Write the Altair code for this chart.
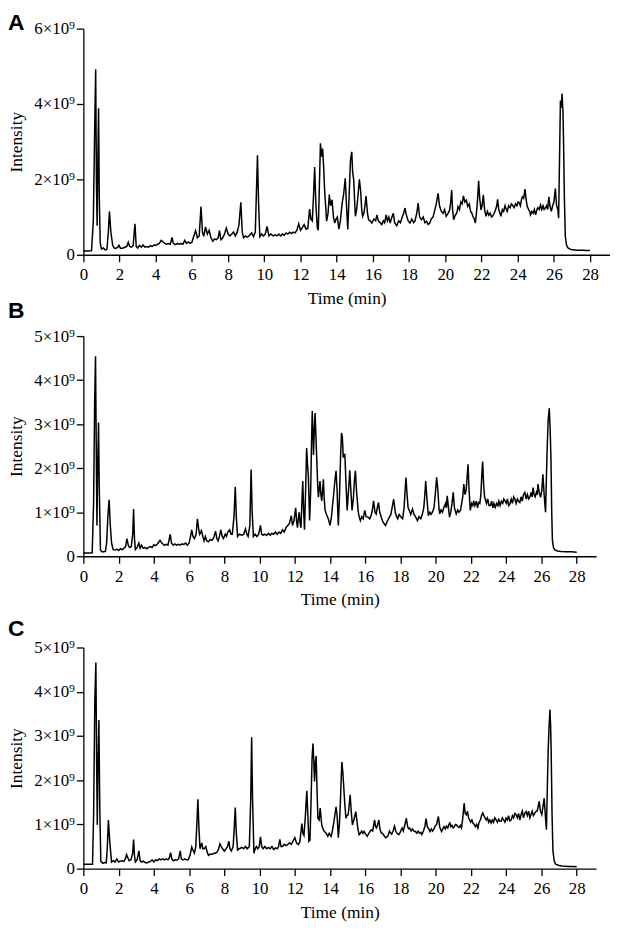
import altair as alt
import pandas as pd

PANEL_LABELS = ["A", "B", "C"]
X_TICKS = [0, 2, 4, 6, 8, 10, 12, 14, 16, 18, 20, 22, 24, 26, 28]
Y_TICKS_A = [0, 2, 4, 6]
Y_TICKS_BC = [0, 1, 2, 3, 4, 5]

# (time in min, intensity in units of 1e9)
A_TRACE = [
    (0.0, 0.10), (0.3, 0.10), (0.45, 0.11), (0.55, 0.9), (0.62, 3.2), (0.68, 4.92), (0.72, 2.0), (0.76, 0.77),
    (0.8, 2.5), (0.84, 3.89), (0.88, 1.5), (0.93, 0.32), (1.0, 0.15), (1.11, 0.18), (1.2, 0.13), (1.3, 0.14),
    (1.38, 0.6), (1.44, 1.15), (1.52, 0.6), (1.62, 0.25), (1.7, 0.18), (1.8, 0.17), (1.9, 0.2), (1.97, 0.25),
    (2.05, 0.17), (2.2, 0.18), (2.3, 0.2), (2.4, 0.22), (2.48, 0.33), (2.56, 0.22), (2.65, 0.2), (2.75, 0.24),
    (2.85, 0.82), (2.92, 0.22), (3.0, 0.18), (3.1, 0.25), (3.2, 0.2), (3.3, 0.26), (3.4, 0.2), (3.5, 0.22),
    (3.6, 0.2), (3.7, 0.24), (3.8, 0.22), (3.9, 0.26), (4.0, 0.25), (4.1, 0.28), (4.2, 0.3), (4.3, 0.38),
    (4.4, 0.34), (4.5, 0.3), (4.6, 0.28), (4.7, 0.3), (4.8, 0.28), (4.9, 0.46), (4.97, 0.3), (5.1, 0.27),
    (5.2, 0.3), (5.3, 0.28), (5.4, 0.3), (5.5, 0.28), (5.6, 0.38), (5.7, 0.3), (5.8, 0.34), (5.9, 0.3),
    (6.0, 0.33), (6.1, 0.49), (6.2, 0.64), (6.3, 0.45), (6.4, 0.5), (6.5, 1.28), (6.58, 0.6), (6.65, 0.49),
    (6.75, 0.74), (6.85, 0.55), (6.95, 0.65), (7.05, 0.45), (7.15, 0.36), (7.25, 0.42), (7.35, 0.4), (7.45, 0.45),
    (7.52, 0.64), (7.6, 0.4), (7.7, 0.45), (7.8, 0.55), (7.9, 0.71), (8.0, 0.55), (8.1, 0.5), (8.2, 0.55),
    (8.3, 0.6), (8.4, 0.5), (8.5, 0.6), (8.6, 0.8), (8.7, 1.39), (8.78, 0.6), (8.85, 0.45), (8.95, 0.5),
    (9.05, 0.47), (9.15, 0.5), (9.3, 0.58), (9.4, 0.48), (9.5, 0.6), (9.57, 1.8), (9.62, 2.64), (9.68, 1.4),
    (9.75, 0.48), (9.85, 0.55), (9.95, 0.5), (10.05, 0.55), (10.15, 0.75), (10.25, 0.5), (10.35, 0.55), (10.5, 0.5),
    (10.6, 0.53), (10.7, 0.5), (10.8, 0.55), (10.9, 0.5), (11.0, 0.55), (11.1, 0.52), (11.2, 0.58), (11.3, 0.55),
    (11.4, 0.6), (11.5, 0.56), (11.6, 0.6), (11.7, 0.58), (11.8, 0.65), (11.9, 0.82), (12.0, 0.65), (12.1, 0.72),
    (12.2, 0.8), (12.3, 0.68), (12.4, 0.7), (12.5, 1.21), (12.57, 0.95), (12.65, 0.9), (12.72, 1.6), (12.78, 2.33),
    (12.85, 1.3), (12.93, 0.7), (12.98, 0.65), (13.05, 2.0), (13.1, 2.96), (13.16, 2.6), (13.22, 2.82), (13.28, 2.3),
    (13.33, 1.72), (13.4, 1.2), (13.44, 0.89), (13.52, 1.1), (13.59, 1.6), (13.66, 1.3), (13.74, 1.46), (13.82, 1.0),
    (13.89, 0.84), (13.96, 0.95), (14.03, 1.0), (14.12, 0.68), (14.2, 0.9), (14.3, 1.37), (14.38, 1.6), (14.47, 2.03),
    (14.54, 1.3), (14.61, 0.67), (14.68, 1.5), (14.76, 2.51), (14.83, 2.73), (14.88, 2.2), (14.94, 1.98), (14.99, 1.4),
    (15.03, 1.02), (15.1, 1.2), (15.18, 1.6), (15.25, 2.0), (15.32, 1.7), (15.38, 1.2), (15.43, 1.02), (15.5, 1.1),
    (15.56, 1.3), (15.62, 1.56), (15.7, 1.1), (15.76, 0.93), (15.85, 0.9), (15.94, 0.84), (16.05, 0.95), (16.15, 0.9),
    (16.22, 1.06), (16.3, 0.9), (16.4, 0.85), (16.49, 0.8), (16.58, 0.9), (16.65, 0.85), (16.73, 1.06), (16.8, 0.9),
    (16.88, 1.0), (16.95, 0.84), (17.05, 1.0), (17.13, 1.1), (17.2, 0.85), (17.32, 0.77), (17.42, 0.9), (17.52, 0.85),
    (17.62, 1.0), (17.7, 1.1), (17.77, 1.24), (17.85, 1.05), (17.95, 0.9), (18.05, 0.84), (18.15, 0.95), (18.25, 0.85),
    (18.32, 0.89), (18.42, 1.1), (18.5, 1.37), (18.58, 1.0), (18.68, 0.93), (18.78, 1.0), (18.87, 0.85), (18.96, 0.89),
    (19.05, 0.8), (19.14, 0.84), (19.22, 0.95), (19.32, 1.0), (19.42, 1.19), (19.5, 1.35), (19.6, 1.63), (19.68, 1.3),
    (19.78, 1.15), (19.88, 1.1), (19.96, 1.2), (20.05, 1.02), (20.15, 1.1), (20.24, 1.19), (20.3, 1.4), (20.35, 1.72),
    (20.4, 1.2), (20.46, 0.93), (20.55, 1.05), (20.63, 1.1), (20.7, 1.28), (20.78, 1.2), (20.86, 1.4), (20.93, 1.35),
    (21.0, 1.56), (21.08, 1.4), (21.16, 1.45), (21.24, 1.28), (21.32, 1.35), (21.4, 1.15), (21.47, 1.1), (21.52, 1.02),
    (21.6, 0.95), (21.66, 0.84), (21.74, 1.2), (21.8, 1.6), (21.84, 1.96), (21.9, 1.5), (21.97, 1.19), (22.03, 1.3),
    (22.1, 1.59), (22.17, 1.2), (22.25, 1.02), (22.33, 1.15), (22.4, 1.05), (22.48, 1.1), (22.55, 1.0), (22.61, 1.02),
    (22.7, 1.1), (22.78, 1.2), (22.84, 1.3), (22.89, 1.47), (22.95, 1.2), (23.02, 1.1), (23.07, 1.02), (23.15, 1.2),
    (23.22, 1.15), (23.3, 1.3), (23.34, 1.24), (23.42, 1.15), (23.5, 1.3), (23.58, 1.25), (23.65, 1.35), (23.71, 1.32),
    (23.8, 1.25), (23.88, 1.35), (23.95, 1.3), (24.02, 1.4), (24.07, 1.39), (24.15, 1.3), (24.2, 1.45), (24.26, 1.54),
    (24.33, 1.5), (24.4, 1.74), (24.47, 1.45), (24.53, 1.28), (24.6, 1.2), (24.66, 1.15), (24.71, 1.06), (24.78, 1.15),
    (24.85, 1.1), (24.92, 1.2), (24.99, 1.06), (25.06, 1.2), (25.12, 1.25), (25.19, 1.2), (25.26, 1.32), (25.33, 1.2),
    (25.4, 1.3), (25.46, 1.2), (25.53, 1.24), (25.6, 1.3), (25.66, 1.2), (25.72, 1.54), (25.78, 1.3), (25.86, 1.15),
    (25.93, 1.3), (26.0, 1.4), (26.08, 1.76), (26.15, 1.3), (26.22, 1.2), (26.26, 0.97), (26.31, 2.5), (26.36, 4.09),
    (26.41, 3.9), (26.45, 4.28), (26.5, 3.8), (26.53, 3.12), (26.58, 1.5), (26.63, 0.49), (26.7, 0.25), (26.78, 0.18),
    (26.9, 0.15), (27.0, 0.13), (27.3, 0.12), (27.6, 0.12), (27.8, 0.11), (28.0, 0.11),
]

B_TRACE = [
    (0.0, 0.075), (0.3, 0.075), (0.5, 0.08), (0.58, 1.2), (0.64, 3.5), (0.69, 4.54), (0.73, 2.5), (0.77, 0.7),
    (0.81, 2.0), (0.86, 3.04), (0.9, 1.6), (0.97, 0.14), (1.05, 0.1), (1.15, 0.1), (1.25, 0.11), (1.32, 0.3),
    (1.39, 0.9), (1.46, 1.28), (1.53, 0.7), (1.6, 0.3), (1.69, 0.15), (1.8, 0.14), (1.9, 0.16), (2.0, 0.13),
    (2.1, 0.17), (2.2, 0.15), (2.3, 0.18), (2.4, 0.22), (2.47, 0.4), (2.55, 0.25), (2.62, 0.2), (2.72, 0.22),
    (2.8, 0.5), (2.85, 1.07), (2.9, 0.4), (2.95, 0.15), (3.05, 0.2), (3.15, 0.3), (3.22, 0.18), (3.3, 0.25),
    (3.4, 0.18), (3.5, 0.2), (3.6, 0.17), (3.7, 0.2), (3.8, 0.22), (3.9, 0.2), (4.0, 0.26), (4.1, 0.24),
    (4.2, 0.28), (4.35, 0.36), (4.45, 0.3), (4.6, 0.25), (4.7, 0.27), (4.8, 0.25), (4.93, 0.5), (5.0, 0.3),
    (5.1, 0.25), (5.2, 0.28), (5.3, 0.25), (5.4, 0.27), (5.5, 0.25), (5.6, 0.28), (5.7, 0.27), (5.8, 0.3),
    (5.9, 0.25), (6.0, 0.3), (6.08, 0.45), (6.15, 0.6), (6.22, 0.45), (6.3, 0.4), (6.4, 0.5), (6.47, 0.85),
    (6.55, 0.6), (6.6, 0.5), (6.7, 0.58), (6.78, 0.45), (6.85, 0.35), (6.92, 0.45), (7.0, 0.35), (7.1, 0.33),
    (7.2, 0.38), (7.3, 0.36), (7.4, 0.42), (7.5, 0.57), (7.58, 0.4), (7.65, 0.35), (7.72, 0.45), (7.8, 0.6),
    (7.88, 0.45), (7.95, 0.4), (8.05, 0.5), (8.12, 0.45), (8.2, 0.55), (8.3, 0.6), (8.38, 0.5), (8.45, 0.5),
    (8.55, 0.9), (8.62, 1.58), (8.68, 0.9), (8.75, 0.45), (8.85, 0.5), (9.0, 0.48), (9.1, 0.5), (9.2, 0.62),
    (9.28, 0.5), (9.35, 0.45), (9.45, 0.7), (9.52, 1.97), (9.58, 1.0), (9.65, 0.45), (9.75, 0.5), (9.85, 0.45),
    (9.95, 0.5), (10.05, 0.7), (10.12, 0.5), (10.2, 0.48), (10.3, 0.5), (10.4, 0.47), (10.5, 0.52), (10.6, 0.48),
    (10.7, 0.52), (10.8, 0.5), (10.9, 0.55), (11.0, 0.5), (11.1, 0.55), (11.2, 0.52), (11.3, 0.6), (11.4, 0.55),
    (11.5, 0.65), (11.6, 0.7), (11.7, 0.75), (11.8, 0.92), (11.87, 0.7), (11.95, 0.8), (12.05, 1.1), (12.1, 0.8),
    (12.15, 0.65), (12.2, 0.85), (12.25, 1.0), (12.3, 0.75), (12.35, 0.65), (12.4, 1.2), (12.45, 1.71), (12.5, 1.04),
    (12.55, 0.6), (12.62, 1.6), (12.67, 2.46), (12.72, 2.1), (12.77, 1.8), (12.84, 0.81), (12.9, 1.5), (12.95, 2.6),
    (12.99, 3.3), (13.03, 2.8), (13.06, 2.3), (13.1, 2.8), (13.15, 3.25), (13.2, 2.7), (13.25, 2.16), (13.3, 1.6),
    (13.34, 1.34), (13.43, 1.71), (13.48, 1.4), (13.53, 1.26), (13.58, 1.5), (13.62, 1.75), (13.67, 1.3), (13.72, 1.04),
    (13.8, 0.95), (13.9, 0.85), (14.0, 0.7), (14.08, 0.9), (14.15, 1.2), (14.19, 1.34), (14.27, 1.7), (14.34, 1.94),
    (14.4, 1.5), (14.44, 1.0), (14.47, 0.7), (14.53, 1.3), (14.6, 2.3), (14.65, 2.8), (14.7, 2.7), (14.75, 2.24),
    (14.8, 2.3), (14.84, 2.31), (14.9, 1.7), (14.97, 1.04), (15.05, 1.5), (15.12, 1.95), (15.18, 1.5), (15.25, 1.04),
    (15.32, 1.3), (15.38, 1.7), (15.44, 1.94), (15.5, 1.5), (15.59, 1.04), (15.65, 0.9), (15.72, 0.81), (15.8, 0.9),
    (15.88, 0.85), (15.97, 1.04), (16.05, 0.9), (16.15, 0.89), (16.25, 0.85), (16.35, 0.95), (16.42, 1.1), (16.47, 1.26),
    (16.55, 1.0), (16.62, 0.96), (16.68, 1.1), (16.75, 1.22), (16.82, 1.0), (16.9, 0.89), (16.98, 0.8), (17.05, 0.75),
    (17.15, 0.7), (17.25, 0.8), (17.37, 0.89), (17.45, 0.95), (17.52, 1.1), (17.61, 1.3), (17.7, 1.0), (17.78, 0.9),
    (17.84, 0.85), (17.92, 0.95), (18.0, 0.9), (18.12, 0.85), (18.2, 1.1), (18.26, 1.5), (18.31, 1.79), (18.37, 1.4),
    (18.43, 1.1), (18.5, 1.04), (18.58, 0.95), (18.68, 1.07), (18.76, 0.95), (18.85, 0.9), (18.96, 0.81), (19.05, 0.9),
    (19.15, 0.85), (19.24, 0.96), (19.32, 1.1), (19.38, 1.4), (19.43, 1.71), (19.5, 1.3), (19.58, 0.92), (19.66, 1.0),
    (19.73, 0.95), (19.81, 1.0), (19.9, 1.1), (19.97, 1.4), (20.05, 1.79), (20.12, 1.5), (20.18, 1.1), (20.22, 0.96),
    (20.3, 1.05), (20.38, 1.0), (20.46, 1.11), (20.55, 1.2), (20.6, 1.1), (20.65, 1.37), (20.72, 1.1), (20.78, 0.89),
    (20.85, 1.0), (20.92, 1.2), (20.99, 1.45), (21.06, 1.1), (21.16, 0.96), (21.25, 1.05), (21.32, 1.0), (21.4, 1.04),
    (21.47, 1.2), (21.53, 1.35), (21.59, 1.64), (21.66, 1.4), (21.72, 1.49), (21.78, 1.8), (21.83, 2.09), (21.89, 1.5),
    (21.96, 1.04), (22.03, 1.2), (22.1, 1.15), (22.15, 1.26), (22.22, 1.15), (22.3, 1.25), (22.37, 1.1), (22.43, 1.22),
    (22.5, 1.2), (22.56, 1.4), (22.62, 1.9), (22.66, 2.15), (22.72, 1.6), (22.77, 1.35), (22.81, 1.3), (22.88, 1.2),
    (22.95, 1.3), (23.02, 1.15), (23.1, 1.15), (23.17, 1.25), (23.24, 1.1), (23.3, 1.2), (23.37, 1.11), (23.45, 1.2),
    (23.52, 1.15), (23.58, 1.25), (23.65, 1.15), (23.72, 1.25), (23.8, 1.2), (23.86, 1.3), (23.93, 1.26), (24.0, 1.2),
    (24.07, 1.3), (24.14, 1.15), (24.21, 1.19), (24.28, 1.3), (24.35, 1.2), (24.42, 1.35), (24.49, 1.3), (24.56, 1.2),
    (24.63, 1.3), (24.7, 1.25), (24.77, 1.22), (24.84, 1.35), (24.91, 1.25), (24.98, 1.4), (25.06, 1.45), (25.13, 1.3),
    (25.2, 1.4), (25.27, 1.3), (25.34, 1.34), (25.41, 1.45), (25.47, 1.35), (25.52, 1.56), (25.58, 1.4), (25.64, 1.35),
    (25.71, 1.45), (25.76, 1.4), (25.8, 1.64), (25.87, 1.45), (25.95, 1.34), (26.02, 1.5), (26.08, 1.86), (26.15, 1.4),
    (26.23, 1.0), (26.28, 1.8), (26.33, 2.54), (26.38, 3.1), (26.44, 3.36), (26.49, 2.9), (26.54, 2.16), (26.58, 1.0),
    (26.62, 0.36), (26.68, 0.2), (26.74, 0.15), (26.9, 0.12), (27.12, 0.11), (27.4, 0.1), (27.7, 0.1), (28.0, 0.09),
]

C_TRACE = [
    (0.0, 0.1), (0.3, 0.1), (0.52, 0.1), (0.58, 1.2), (0.65, 3.8), (0.71, 4.66), (0.75, 2.5), (0.79, 0.99),
    (0.83, 2.4), (0.88, 3.36), (0.93, 1.4), (0.99, 0.17), (1.1, 0.12), (1.2, 0.14), (1.3, 0.13), (1.36, 0.5),
    (1.42, 1.1), (1.5, 0.6), (1.6, 0.15), (1.7, 0.18), (1.8, 0.15), (1.9, 0.22), (2.0, 0.15), (2.1, 0.17),
    (2.2, 0.18), (2.3, 0.16), (2.38, 0.22), (2.45, 0.32), (2.52, 0.25), (2.6, 0.18), (2.7, 0.2), (2.8, 0.35),
    (2.85, 0.66), (2.9, 0.3), (2.95, 0.15), (3.05, 0.2), (3.15, 0.4), (3.22, 0.18), (3.3, 0.15), (3.4, 0.17),
    (3.5, 0.14), (3.6, 0.13), (3.7, 0.15), (3.8, 0.16), (3.9, 0.2), (4.0, 0.15), (4.1, 0.2), (4.2, 0.18),
    (4.3, 0.22), (4.4, 0.2), (4.5, 0.22), (4.6, 0.2), (4.7, 0.22), (4.8, 0.2), (4.88, 0.25), (4.95, 0.36),
    (5.02, 0.22), (5.1, 0.18), (5.2, 0.2), (5.3, 0.19), (5.4, 0.22), (5.5, 0.4), (5.56, 0.22), (5.65, 0.2),
    (5.75, 0.22), (5.85, 0.2), (5.95, 0.2), (6.05, 0.3), (6.15, 0.49), (6.22, 0.42), (6.3, 0.35), (6.38, 0.5),
    (6.44, 1.0), (6.5, 1.57), (6.56, 0.9), (6.62, 0.45), (6.72, 0.58), (6.78, 0.45), (6.85, 0.45), (6.95, 0.5),
    (7.02, 0.38), (7.1, 0.3), (7.2, 0.33), (7.3, 0.32), (7.4, 0.35), (7.5, 0.35), (7.6, 0.38), (7.68, 0.45),
    (7.75, 0.56), (7.82, 0.5), (7.9, 0.45), (8.0, 0.4), (8.1, 0.45), (8.18, 0.5), (8.25, 0.62), (8.32, 0.45),
    (8.4, 0.4), (8.5, 0.5), (8.56, 0.9), (8.62, 1.38), (8.68, 0.8), (8.75, 0.42), (8.85, 0.45), (9.0, 0.48),
    (9.1, 0.45), (9.2, 0.5), (9.3, 0.45), (9.42, 0.5), (9.5, 1.6), (9.55, 2.97), (9.6, 1.6), (9.68, 0.35),
    (9.75, 0.45), (9.82, 0.5), (9.9, 0.45), (9.98, 0.5), (10.05, 0.72), (10.12, 0.5), (10.2, 0.45), (10.3, 0.5),
    (10.4, 0.45), (10.5, 0.48), (10.6, 0.45), (10.7, 0.5), (10.8, 0.43), (10.9, 0.47), (11.0, 0.45), (11.08, 0.5),
    (11.15, 0.66), (11.22, 0.5), (11.3, 0.5), (11.4, 0.55), (11.5, 0.52), (11.6, 0.55), (11.7, 0.58), (11.8, 0.55),
    (11.9, 0.62), (12.0, 0.7), (12.1, 0.58), (12.2, 0.55), (12.28, 0.6), (12.34, 0.8), (12.4, 1.02), (12.46, 0.8),
    (12.52, 0.75), (12.6, 1.2), (12.68, 1.76), (12.74, 1.2), (12.8, 0.62), (12.86, 0.65), (12.92, 1.5), (12.98, 2.5),
    (13.03, 2.83), (13.08, 2.4), (13.12, 1.97), (13.17, 2.4), (13.21, 2.55), (13.26, 1.8), (13.31, 1.14), (13.38, 1.1),
    (13.44, 1.37), (13.5, 1.1), (13.53, 0.99), (13.6, 0.9), (13.68, 0.84), (13.78, 0.8), (13.87, 0.73), (13.95, 0.8),
    (14.06, 0.73), (14.13, 0.85), (14.19, 0.99), (14.27, 1.2), (14.34, 1.4), (14.4, 1.2), (14.47, 0.7), (14.53, 1.0),
    (14.58, 1.44), (14.63, 2.0), (14.67, 2.41), (14.72, 2.2), (14.77, 1.89), (14.83, 1.5), (14.9, 1.14), (14.96, 1.2),
    (15.03, 1.22), (15.09, 1.45), (15.14, 1.67), (15.2, 1.3), (15.27, 0.99), (15.35, 1.1), (15.41, 1.2), (15.46, 1.29),
    (15.52, 1.1), (15.58, 0.9), (15.65, 0.77), (15.72, 0.8), (15.8, 0.85), (15.87, 0.8), (15.93, 0.84), (16.02, 0.78),
    (16.11, 0.73), (16.2, 0.8), (16.28, 0.85), (16.34, 0.88), (16.42, 0.85), (16.48, 1.0), (16.53, 1.1), (16.58, 0.95),
    (16.64, 0.92), (16.7, 1.0), (16.77, 1.1), (16.83, 0.9), (16.9, 0.81), (16.98, 0.8), (17.06, 0.75), (17.15, 0.7),
    (17.23, 0.72), (17.3, 0.75), (17.37, 0.85), (17.43, 0.81), (17.5, 0.78), (17.58, 0.85), (17.66, 0.96), (17.73, 0.85),
    (17.8, 0.8), (17.9, 0.77), (17.98, 0.82), (18.04, 0.88), (18.09, 0.92), (18.16, 0.85), (18.22, 0.95), (18.28, 1.05),
    (18.33, 1.14), (18.4, 0.95), (18.46, 0.9), (18.52, 0.92), (18.6, 0.85), (18.68, 0.9), (18.76, 0.85), (18.84, 0.84),
    (18.92, 0.8), (19.0, 0.85), (19.08, 0.8), (19.15, 0.82), (19.21, 0.77), (19.3, 0.85), (19.38, 0.95), (19.45, 1.13),
    (19.52, 0.95), (19.6, 0.9), (19.68, 0.84), (19.75, 0.9), (19.82, 0.85), (19.9, 0.9), (19.96, 0.96), (20.05, 1.0),
    (20.1, 1.1), (20.15, 1.18), (20.22, 0.95), (20.28, 0.88), (20.33, 0.84), (20.4, 0.9), (20.47, 0.95), (20.54, 0.9),
    (20.61, 0.96), (20.68, 0.92), (20.75, 1.0), (20.8, 1.03), (20.86, 0.95), (20.92, 0.98), (20.99, 0.92), (21.05, 0.95),
    (21.12, 1.0), (21.18, 0.99), (21.25, 0.95), (21.32, 0.93), (21.39, 0.98), (21.46, 0.92), (21.52, 1.1), (21.57, 1.3),
    (21.61, 1.48), (21.67, 1.25), (21.74, 1.22), (21.8, 1.3), (21.86, 1.15), (21.92, 1.1), (21.98, 1.05), (22.05, 1.1),
    (22.11, 1.03), (22.18, 1.0), (22.25, 0.95), (22.32, 1.0), (22.39, 0.92), (22.46, 1.05), (22.53, 1.1), (22.6, 1.2),
    (22.67, 1.26), (22.73, 1.2), (22.8, 1.15), (22.86, 1.1), (22.93, 1.15), (23.0, 1.05), (23.07, 1.1), (23.14, 1.03),
    (23.21, 1.1), (23.28, 1.05), (23.35, 1.15), (23.43, 1.1), (23.5, 1.05), (23.57, 1.12), (23.64, 1.07), (23.71, 1.07),
    (23.78, 1.15), (23.85, 1.1), (23.92, 1.05), (23.99, 1.14), (24.06, 1.1), (24.13, 1.2), (24.2, 1.08), (24.28, 1.1),
    (24.35, 1.2), (24.42, 1.15), (24.49, 1.25), (24.56, 1.22), (24.63, 1.15), (24.7, 1.25), (24.77, 1.1), (24.84, 1.22),
    (24.91, 1.3), (24.98, 1.15), (25.05, 1.25), (25.13, 1.29), (25.2, 1.2), (25.27, 1.3), (25.34, 1.15), (25.4, 1.22),
    (25.47, 1.3), (25.54, 1.2), (25.61, 1.25), (25.68, 1.29), (25.75, 1.3), (25.81, 1.4), (25.87, 1.52), (25.94, 1.3),
    (26.02, 1.22), (26.08, 1.4), (26.15, 1.59), (26.22, 1.2), (26.28, 0.88), (26.33, 1.8), (26.38, 2.68), (26.43, 3.2),
    (26.48, 3.6), (26.52, 3.2), (26.55, 2.64), (26.6, 1.2), (26.65, 0.4), (26.72, 0.18), (26.8, 0.1), (27.0, 0.07),
    (27.17, 0.06), (27.5, 0.05), (27.8, 0.05), (28.0, 0.045),
]

X_MAX = 29.1
SERIF = "Liberation Serif"
SANS = "Liberation Sans"

AXIS_STYLE = dict(
    grid=False,
    domainColor="black",
    domainWidth=1.3,
    tickColor="black",
    tickWidth=1.3,
    tickSize=7,
    labelFont=SERIF,
    labelFontSize=17,
    labelFontWeight="normal",
    labelColor="black",
    titleFont=SERIF,
    titleFontSize=17.5,
    titleFontWeight="normal",
    titleColor="black",
    labelFlush=False,
    labelOverlap=False,
)


def panel(trace, label, ymax, yticks, width, height, letter_y):
    df = pd.DataFrame(trace, columns=["time", "intensity"])
    line = alt.Chart(df).mark_line(color="black", strokeWidth=1.5).encode(
        x=alt.X(
            "time:Q",
            scale=alt.Scale(domain=[0, X_MAX], nice=False, zero=False),
            axis=alt.Axis(values=X_TICKS, title="Time (min)", format="d",
                          labelPadding=5, titlePadding=7, **AXIS_STYLE),
        ),
        y=alt.Y(
            "intensity:Q",
            scale=alt.Scale(domain=[0, ymax], nice=False),
            axis=alt.Axis(values=yticks, title="Intensity",
                          labelExpr="datum.value == 0 ? '0' : datum.value + '\u00d710\u2079'",
                          labelPadding=2, titleX=-76, titleBaseline="top", **AXIS_STYLE),
        ),
    )
    letter = alt.Chart(pd.DataFrame({"label": [label]})).mark_text(
        font=SANS, fontWeight="bold", fontSize=23, align="left", baseline="top", color="black"
    ).encode(text="label:N", x=alt.value(-76), y=alt.value(letter_y))
    return alt.layer(line, letter).properties(width=width, height=height)


pA = panel(A_TRACE, PANEL_LABELS[0], 6, Y_TICKS_A, 531, 228, -17)
pB = panel(B_TRACE, PANEL_LABELS[1], 5, Y_TICKS_BC, 517, 222, -36)
pC = panel(C_TRACE, PANEL_LABELS[2], 5, Y_TICKS_BC, 517, 223, -30)

chart = alt.vconcat(
    pA,
    alt.vconcat(pB, pC, spacing=92, bounds="flush"),
    spacing=82,
    bounds="flush",
).properties(
    padding={"left": 0, "top": 0, "right": 0, "bottom": 0},
    background="white",
).configure_view(stroke=None)

chart.save("out.html", embed_options={"renderer": "svg", "actions": False})
